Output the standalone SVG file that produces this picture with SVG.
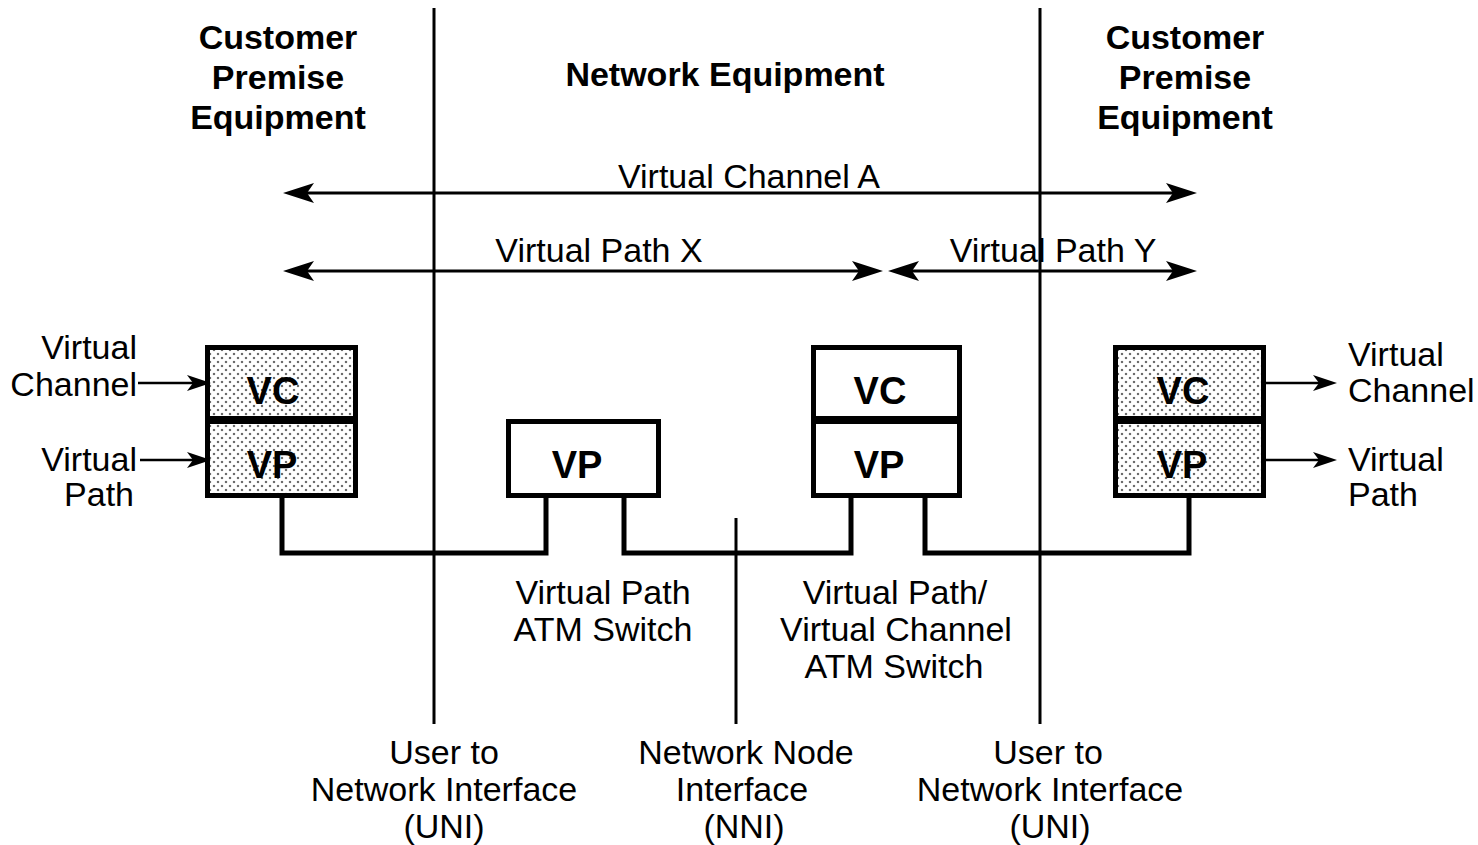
<svg xmlns="http://www.w3.org/2000/svg" width="1478" height="845" viewBox="0 0 1478 845">
  <style>
    .lbl { font-family: "Liberation Sans", Arial, sans-serif; font-size: 34px; fill: #000; }
    .hdr { font-family: "Liberation Sans", Arial, sans-serif; font-size: 34px; font-weight: bold; fill: #000; text-anchor: middle; }
    .cell { font-family: "Liberation Sans", Arial, sans-serif; font-size: 38px; font-weight: bold; fill: #000; text-anchor: middle; }
    .mid { text-anchor: middle; }
    .end { text-anchor: end; }
    .box { stroke: #000; stroke-width: 5; }
    .shaded { fill: url(#dots); }
    .plain { fill: #fff; }
    .wire { fill: none; stroke: #000; stroke-width: 5; stroke-linejoin: miter; }
    .rule { stroke: #000; stroke-width: 3; }
    .span { stroke: #000; stroke-width: 3; marker-start: url(#barb); marker-end: url(#barb); }
    .feed { stroke: #000; stroke-width: 2.5; marker-end: url(#tip); }
  </style>
  <defs>
    <pattern id="dots" width="8" height="8" patternUnits="userSpaceOnUse">
      <rect width="8" height="8" fill="#fff"/>
      <circle cx="2" cy="2" r="1.3" fill="#aaa"/>
      <circle cx="2" cy="2" r="0.7" fill="#000"/>
      <circle cx="6" cy="6" r="1.3" fill="#aaa"/>
      <circle cx="6" cy="6" r="0.7" fill="#000"/>
    </pattern>
    <marker id="barb" markerUnits="userSpaceOnUse" markerWidth="32" markerHeight="22" refX="23" refY="10" orient="auto-start-reverse" overflow="visible">
      <path d="M0,0 L31,10 L0,20 L7,10 Z" fill="#000"/>
    </marker>
    <marker id="tip" markerUnits="userSpaceOnUse" markerWidth="26" markerHeight="18" refX="17" refY="8" orient="auto" overflow="visible">
      <path d="M0,0 L24,8 L0,16 L6,8 Z" fill="#000"/>
    </marker>
  </defs>

  <rect width="1478" height="845" fill="#fff"/>

  <!-- interface boundaries -->
  <g id="boundaries">
    <line class="rule" x1="434" y1="8" x2="434" y2="724"/>
    <line class="rule" x1="1040" y1="8" x2="1040" y2="724"/>
    <line class="rule" x1="736" y1="518" x2="736" y2="724"/>
  </g>

  <!-- region headings -->
  <g id="heading-cpe-left">
    <text class="hdr" x="278" y="49">Customer</text>
    <text class="hdr" x="278" y="89">Premise</text>
    <text class="hdr" x="278" y="129">Equipment</text>
  </g>
  <g id="heading-network">
    <text class="hdr" x="725" y="86">Network Equipment</text>
  </g>
  <g id="heading-cpe-right">
    <text class="hdr" x="1185" y="49">Customer</text>
    <text class="hdr" x="1185" y="89">Premise</text>
    <text class="hdr" x="1185" y="129">Equipment</text>
  </g>

  <!-- end-to-end spans -->
  <g id="spans">
    <line class="span" x1="291" y1="193" x2="1189" y2="193"/>
    <text class="lbl mid" x="749" y="188">Virtual Channel A</text>
    <line class="span" x1="291" y1="271" x2="875" y2="271"/>
    <text class="lbl mid" x="599" y="262">Virtual Path X</text>
    <line class="span" x1="896" y1="271" x2="1189" y2="271"/>
    <text class="lbl mid" x="1053" y="262">Virtual Path Y</text>
  </g>

  <!-- physical links -->
  <g id="connectors">
    <path class="wire" d="M282,498 V553 H546 V498"/>
    <path class="wire" d="M624,498 V553 H851 V498"/>
    <path class="wire" d="M925,498 V553 H1189 V498"/>
  </g>

  <!-- left customer endpoint -->
  <g id="cpe-left">
    <rect class="box shaded" x="207.5" y="347.5" width="148" height="71"/>
    <rect class="box shaded" x="207.5" y="421.5" width="148" height="74"/>
    <text class="cell" x="273" y="404">VC</text>
    <text class="cell" x="272" y="478">VP</text>
    <line class="feed" x1="138" y1="383" x2="204" y2="383"/>
    <line class="feed" x1="140" y1="460" x2="204" y2="460"/>
    <text class="lbl end" x="137" y="359">Virtual</text>
    <text class="lbl end" x="137" y="396">Channel</text>
    <text class="lbl end" x="137" y="471">Virtual</text>
    <text class="lbl end" x="134" y="506">Path</text>
  </g>

  <!-- virtual path switch -->
  <g id="vp-switch">
    <rect class="box plain" x="508.5" y="421.5" width="150" height="74"/>
    <text class="cell" x="577" y="478">VP</text>
    <text class="lbl mid" x="603" y="604">Virtual Path</text>
    <text class="lbl mid" x="603" y="641">ATM Switch</text>
  </g>

  <!-- virtual path / virtual channel switch -->
  <g id="vpvc-switch">
    <rect class="box plain" x="813.5" y="347.5" width="146" height="71"/>
    <rect class="box plain" x="813.5" y="421.5" width="146" height="74"/>
    <text class="cell" x="880" y="404">VC</text>
    <text class="cell" x="879" y="478">VP</text>
    <text class="lbl mid" x="895" y="604">Virtual Path/</text>
    <text class="lbl mid" x="896" y="641">Virtual Channel</text>
    <text class="lbl mid" x="894" y="678">ATM Switch</text>
  </g>

  <!-- right customer endpoint -->
  <g id="cpe-right">
    <rect class="box shaded" x="1115.5" y="347.5" width="148" height="71"/>
    <rect class="box shaded" x="1115.5" y="421.5" width="148" height="74"/>
    <text class="cell" x="1183" y="404">VC</text>
    <text class="cell" x="1182" y="478">VP</text>
    <line class="feed" x1="1266" y1="383" x2="1330" y2="383"/>
    <line class="feed" x1="1266" y1="460" x2="1330" y2="460"/>
    <text class="lbl" x="1348" y="366">Virtual</text>
    <text class="lbl" x="1348" y="402">Channel</text>
    <text class="lbl" x="1348" y="471">Virtual</text>
    <text class="lbl" x="1348" y="506">Path</text>
  </g>

  <!-- interface names -->
  <g id="uni-left">
    <text class="lbl mid" x="444" y="764">User to</text>
    <text class="lbl mid" x="444" y="801">Network Interface</text>
    <text class="lbl mid" x="444" y="838">(UNI)</text>
  </g>
  <g id="nni">
    <text class="lbl mid" x="746" y="764">Network Node</text>
    <text class="lbl mid" x="742" y="801">Interface</text>
    <text class="lbl mid" x="744" y="838">(NNI)</text>
  </g>
  <g id="uni-right">
    <text class="lbl mid" x="1048" y="764">User to</text>
    <text class="lbl mid" x="1050" y="801">Network Interface</text>
    <text class="lbl mid" x="1050" y="838">(UNI)</text>
  </g>
</svg>
